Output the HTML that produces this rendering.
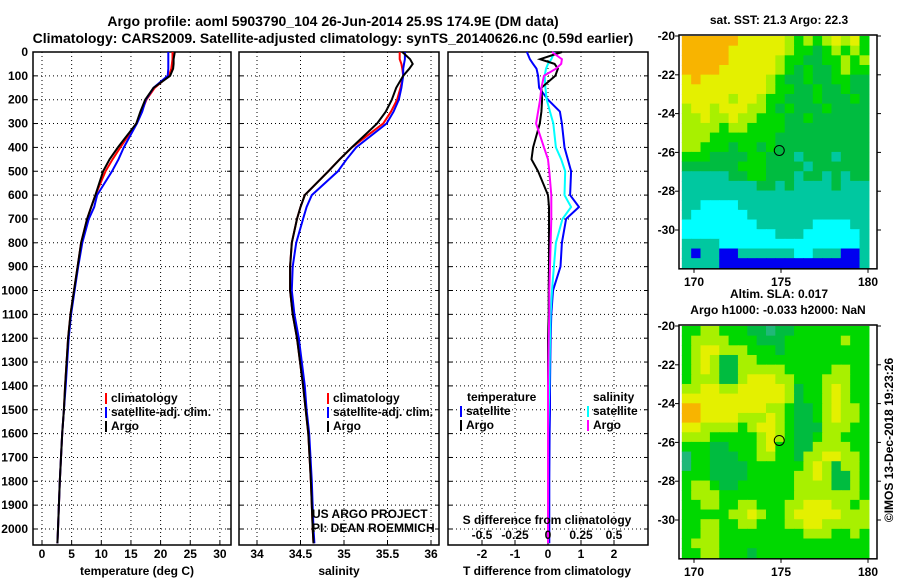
<!DOCTYPE html>
<html><head><meta charset="utf-8">
<style>
html,body{margin:0;padding:0;background:#fff;}
svg{display:block;font-family:"Liberation Sans",Arial,sans-serif;}
.b{font-weight:bold;font-size:12px;fill:#000;}
.t{font-weight:bold;font-size:14px;fill:#000;}
</style></head>
<body>
<svg id="c" width="900" height="580" viewBox="0 0 900 580" xmlns="http://www.w3.org/2000/svg">
<text class="t" x="333" y="26" text-anchor="middle">Argo profile: aoml 5903790_104 26-Jun-2014 25.9S 174.9E (DM data)</text>
<text class="t" x="333" y="43" text-anchor="middle">Climatology: CARS2009. Satellite-adjusted climatology: synTS_20140626.nc (0.59d earlier)</text>
<g id="g"></g>
</svg>
<script>
// ---------- profile data ----------
const depths   = [0, 30, 50, 70, 100, 150, 200, 250, 300, 400, 450, 500, 600, 650, 700, 800, 900, 1000, 1100, 1200, 1400, 1500, 1600, 1800, 2000, 2060];
const tempClim = [22.0, 22.0, 21.9, 21.8, 21.4, 19.0, 17.6, 16.8, 15.9, 13.2, 11.9, 10.7, 9.0, 8.3, 7.6, 6.6, 6.0, 5.4, 4.8, 4.4, 3.9, 3.7, 3.4, 3.0, 2.7, 2.6];
const tempSat  = [21.3, 21.3, 21.3, 21.3, 21.2, 18.8, 17.5, 16.9, 16.0, 13.8, 12.9, 11.8, 9.3, 8.8, 7.9, 6.8, 6.1, 5.5, 4.9, 4.5, 4.0, 3.7, 3.4, 3.0, 2.7, 2.6];
const tempArgo = [22.4, 22.2, 22.2, 22.1, 21.6, 18.8, 17.4, 16.6, 15.9, 12.8, 11.4, 10.3, 9.0, 8.3, 7.6, 6.6, 6.0, 5.4, 4.8, 4.4, 3.9, 3.7, 3.4, 3.0, 2.7, 2.6];
const salClim  = [35.64, 35.64, 35.66, 35.67, 35.68, 35.65, 35.61, 35.54, 35.45, 35.09, 34.95, 34.82, 34.55, 34.50, 34.46, 34.40, 34.38, 34.38, 34.41, 34.46, 34.53, 34.56, 34.59, 34.62, 34.64, 34.65];
const salSat   = [35.70, 35.70, 35.69, 35.68, 35.68, 35.66, 35.63, 35.57, 35.49, 35.14, 35.03, 34.93, 34.63, 34.57, 34.53, 34.45, 34.41, 34.40, 34.43, 34.48, 34.55, 34.57, 34.60, 34.63, 34.65, 34.66];
const salArgo  = [35.67, 35.76, 35.79, 35.75, 35.68, 35.60, 35.55, 35.48, 35.38, 35.09, 34.95, 34.82, 34.55, 34.50, 34.46, 34.40, 34.38, 34.38, 34.41, 34.46, 34.53, 34.56, 34.59, 34.62, 34.64, 34.65];
const dTSat    = [-0.64, -0.55, -0.45, -0.35, -0.3, -0.27, 0.0, 0.36, 0.42, 0.5, 0.6, 0.7, 0.67, 0.94, 0.55, 0.42, 0.38, 0.15, 0.1, 0.08, 0.06, 0.06, 0.05, 0.04, 0.04, 0.04];
const dTArgo   = [0.42, -0.24, 0.2, 0.3, 0.22, -0.2, -0.18, -0.2, -0.25, -0.45, -0.5, -0.3, 0.0, 0.03, 0.03, 0.03, 0.03, 0.02, 0.02, 0.0, 0.0, 0.0, 0.0, 0.0, 0.0, 0.0];
const dSSat    = [0.05, 0.025, 0.0, -0.015, -0.025, -0.02, -0.01, 0.015, 0.04, 0.06, 0.1, 0.13, 0.125, 0.175, 0.11, 0.06, 0.045, 0.03, 0.02, 0.015, 0.01, 0.005, 0.0, 0.0, 0.0, 0.0];
const dSArgo   = [0.03, 0.105, 0.1, 0.06, -0.03, -0.05, -0.06, -0.075, -0.09, -0.03, 0.0, 0.01, 0.025, 0.025, 0.025, 0.02, 0.015, 0.01, 0.01, 0.005, 0.0, 0.0, 0.0, 0.0, 0.0, 0.0];
const depthTicks = [0,100,200,300,400,500,600,700,800,900,1000,1100,1200,1300,1400,1500,1600,1700,1800,1900,2000];
const tempTicks = [0,5,10,15,20,25,30];
const salTicks = [34,34.5,35,35.5,36];
const dTTicks = [-2,-1,0,1,2];
const dSTicks = [-0.5,-0.25,0,0.25,0.5];
const latTicks = [-20,-22,-24,-26,-28,-30];
const lonTicks = [170,175,180];
// map grids: O orange, Y yellow, L lime, G green, D dark green, T teal, C cyan, B blue, S sea-green
const sstRows = [
"OOOOOOYYYYYLGLGLYLYG","OOOOOYYYYYYLGGDGLGLG","OOOOOYYYYYLGGDDGGLGL","OOOOYYYYYYLGDGDDGLGG",
"YOYYYYYYYLGDDGDDGGDD","YYYYYYYYYLGGDDGDDGDD","YYYYYLYYLGGDDDGDDDGD","LYYLYYYLLGDGDDDGDDDD",
"LLYLLYLLGGGDDGDDDDDD","LLLLGLLGGGGDDDDDDDDD","LLLGGGGGGGDDDDDDDDDD","LLGGGDGGDGDDDDDDDDDD",
"GGGDDDDGGDDDTDDDTDDD","DDDDDDGGGDDDDTDDDDDD","TTTTTDDGGDDDTDDTDTDD","TTTTTTTTDDTDTTTTDTTT",
"TTTTTTTTTTTTTTTTTTTT","TTCCCCTTTTTTTTTTTTTT","TCCCCCCTTTTTTTTTTTTT","CCCCCCCCTTTTTTCCCCTT",
"CCCCCCCCCCTTTCCCCCCT","TTTTCCCCCCCCCCCCCCCT","TBTTBBTTTTTTCCTTTBBT","TTTTBBBBBBBBBBBBBBBT"];
const slaRows = [
"GGLLGGGDDSDDGGGGGGGG","GLLLLGGGDDDGGGGGGLGG","GLYYLLLGGGDGGGGGGGGG","GLYLDDLLGGGGGGGGGGGG",
"GLYLDDLLLLLGGGGGLLGG","GLLLDDLYYYLLGGGLLLGG","LLYYLLYYYYYLDGGLYLGG","YYYYYYYYYYYLDGGLYLGG",
"OOYYYYYYYLLGDDGLYLLG","OOYYYYLLLYLGDDGLYLLG","YYLLLLGLYYLGDDDLLLGG","LLLGGGGGLYLGDDGLLGGG",
"GGGDDGGGLYGGDDLLLLGG","SGGDDDGGLLGGDLLYYLLG","SGGDDDDGGGGGGLYLDLLG","GGGDDDDGGGGGLLYLDDLG",
"GLLGDDGGGGGGLLLLDDLG","GLLLGGGGGGGGLLLLLLLG","GGLLGGLLGGGLLYYYLLGL","GGGGGLLYLGGLYYYYYLLL",
"GGLLGGLLGGGLLYYLLLLL","GGLLGGGGGGGGGLLLGGLG","GLLLGGGGGGGGGGGGGGGG","GGLLGGGDGGGGGGGGGGGG"];
const floatLon = 174.9, floatLat = -25.9;

const NS="http://www.w3.org/2000/svg";
const G=document.getElementById('g');
function mk(tag,at,parent){const e=document.createElementNS(NS,tag);for(const k in at)e.setAttribute(k,at[k]);(parent||G).appendChild(e);return e;}
function txt(s,x,y,cls,anchor,parent){const e=mk('text',{x:x,y:y,'class':cls||'b','text-anchor':anchor||'middle'},parent);e.textContent=s;return e;}

const Y0=52, PY=0.2385, yTop=52, yBot=545;
const yD=d=>Y0+d*PY;
const xT=v=>42+v*5.93;
const xS=v=>257+(v-34)*87;
const xDT=v=>548+v*33;
const xDS=v=>548+v*132;

function panel(name,x0,x1,vTicksX){
  const g=mk('g',{});
  
  
  depthTicks.forEach(d=>{mk('line',{x1:x0,x2:x1,y1:yD(d),y2:yD(d),stroke:'#000','stroke-dasharray':'1,3','stroke-width':1},g);
    mk('line',{x1:x0,x2:x0+4,y1:yD(d),y2:yD(d),stroke:'#000'},g);mk('line',{x1:x1-4,x2:x1,y1:yD(d),y2:yD(d),stroke:'#000'},g);});
  vTicksX.forEach(x=>{mk('line',{x1:x,x2:x,y1:yTop,y2:yBot,stroke:'#000','stroke-dasharray':'1,3','stroke-width':1},g);
    mk('line',{x1:x,x2:x,y1:yBot-4,y2:yBot,stroke:'#000'},g);});
  mk('rect',{x:x0,y:yTop,width:x1-x0,height:yBot-yTop,fill:'none',stroke:'#000','stroke-width':1.5},g);
  return g;
}
function series(g,xs,fx,color,name){
  const p=mk('polyline',{points:xs.map((v,i)=>fx(v).toFixed(1)+','+yD(depths[i]).toFixed(1)).join(' '),fill:'none',stroke:color,'stroke-width':2},g);
  
  
}
function legend(g,items,x,y){
  items.forEach((it,i)=>{const yy=y+i*14;
    mk('rect',{x:x,y:yy-9,width:2,height:11,fill:it[1]},g);
    const t=txt(it[0],x+6,yy,'b','start',g);
    
    });
}

depthTicks.forEach(d=>{const t=txt(String(d),28,yD(d)+4,'b','end');});

const p1=panel('temperature-panel',33,231,tempTicks.map(xT));
series(p1,tempClim,xT,'#f00','temp-climatology-line');
series(p1,tempSat,xT,'#00f','temp-satellite-line');
series(p1,tempArgo,xT,'#000','temp-argo-line');
tempTicks.forEach(v=>txt(String(v),xT(v),558,'b','middle',p1));
txt('temperature (deg C)',137,575,'b','middle',p1);
legend(p1,[['climatology','#f00','climatology'],['satellite-adj. clim.','#00f','satellite'],['Argo','#000','argo']],105,402);

const p2=panel('salinity-panel',239,439,salTicks.map(xS));
series(p2,salClim,xS,'#f00','sal-climatology-line');
series(p2,salSat,xS,'#00f','sal-satellite-line');
series(p2,salArgo,xS,'#000','sal-argo-line');
salTicks.forEach(v=>txt(String(v),xS(v),558,'b','middle',p2));
txt('salinity',339,575,'b','middle',p2);
legend(p2,[['climatology','#f00','climatology'],['satellite-adj. clim.','#00f','satellite'],['Argo','#000','argo']],327,402);
const n1=txt('US ARGO PROJECT',312,518,'','start',p2);n1.setAttribute('style','font-size:12px');
const n2=txt('PI: DEAN ROEMMICH',312,532,'','start',p2);n2.setAttribute('style','font-size:12px');

const p3=panel('difference-panel',448,648,dTTicks.map(xDT));
series(p3,dTSat,xDT,'#00f','dT-satellite-line');
series(p3,dSSat,xDS,'#0ff','dS-satellite-line');
series(p3,dTArgo,xDT,'#000','dT-argo-line');
series(p3,dSArgo,xDS,'#f0f','dS-argo-line');
dTTicks.forEach(v=>txt(String(v),xDT(v),558,'b','middle',p3));
dSTicks.forEach(v=>txt(String(v),xDS(v),539,'b','middle',p3));
txt('S difference from climatology',547,524,'b','middle',p3);
txt('T difference from climatology',547,575,'b','middle',p3);
txt('temperature',467,401,'b','start',p3);
legend(p3,[['satellite','#00f','t-satellite'],['Argo','#000','t-argo']],460,415);
txt('salinity',593,401,'b','start',p3);
legend(p3,[['satellite','#0ff','s-satellite'],['Argo','#f0f','s-argo']],587,415);

const colors={O:'#f8b400',Y:'#e4f000',L:'#a8f000',G:'#00d800',D:'#00bc40',T:'#00c8a0',C:'#00ffff',B:'#0000f0',S:'#20b878'};
function map(name,rows,top,title1,title2){
  const g=mk('g',{});
  
  
  const lonMin=169.3, lonMax=180.05, lx=v=>694+(v-170)*17.4, ly=v=>top+(-20-v)*19.4;
  const nc=rows[0].length, nr=rows.length, cw=(lx(lonMax)-lx(lonMin))/nc, rh=(ly(-31.95)-ly(-20))/nr;
  rows.forEach((r,i)=>{for(let j=0;j<nc;j++){
    const c=mk('rect',{x:(lx(lonMin)+j*cw).toFixed(2),y:(ly(-20)+i*rh).toFixed(2),width:(cw+0.6).toFixed(2),height:(rh+0.6).toFixed(2),fill:colors[r[j]]},g);
    
    }});
  const x0=679,x1=877,y0=top-1,y1=ly(-31.95)+1;
  mk('rect',{x:x0,y:y0,width:x1-x0,height:y1-y0,fill:'none',stroke:'#000','stroke-width':1.5},g);
  latTicks.forEach(v=>{mk('line',{x1:x0-4,x2:x0,y1:ly(v),y2:ly(v),stroke:'#000'},g);mk('line',{x1:x1,x2:x1+4,y1:ly(v),y2:ly(v),stroke:'#000'},g);
    txt(String(v),675,ly(v)+4,'b','end',g);});
  lonTicks.forEach(v=>{mk('line',{x1:lx(v),x2:lx(v),y1:y1,y2:y1+4,stroke:'#000'},g);txt(String(v),lx(v),y1+17,'b','middle',g);});
  const fm=mk('circle',{cx:lx(floatLon),cy:ly(floatLat),r:5,fill:'none',stroke:'#000','stroke-width':1},g);
  
  
  txt(title1,779,top-(title2?28:12),'b','middle',g);
  if(title2) txt(title2,778,top-12,'b','middle',g);
}
map('sst-map',sstRows,36,'sat. SST: 21.3 Argo: 22.3');
map('sla-map',slaRows,326,'Altim. SLA: 0.017','Argo h1000: -0.033 h2000: NaN');
const cr=txt('©IMOS 13-Dec-2018 19:23:26',0,0,'','middle');
cr.setAttribute('transform','translate(893,440) rotate(-90)');
cr.setAttribute('style','font-size:12px');


</script>
</body></html>
